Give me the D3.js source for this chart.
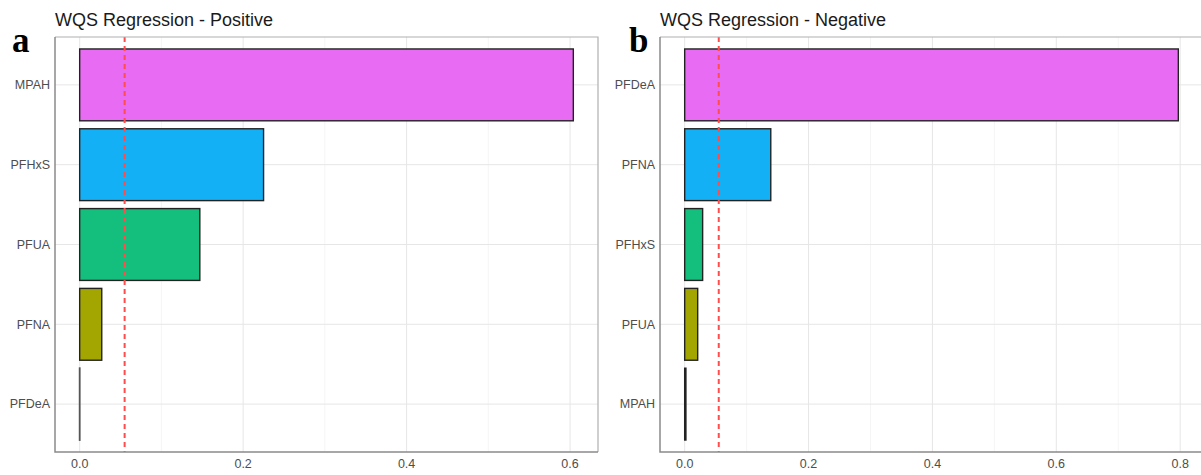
<!DOCTYPE html>
<html>
<head>
<meta charset="utf-8">
<script src="https://cdn.jsdelivr.net/npm/d3@7"></script>
<style>
  body { margin: 0; background: #fff; }
  svg { display: block; font-family: "Liberation Sans", Arial, sans-serif; }
  .grid-major { stroke: #e6e6e6; stroke-width: 1; }
  .grid-minor { stroke: #f2f2f2; stroke-width: 0.8; }
  .tick-label { fill: #4d4d4d; font-size: 12.5px; }
  .title { fill: #1a1a1a; font-size: 18px; }
  .panel-tag { font-family: "Liberation Serif", "Times New Roman", serif; font-weight: bold; font-size: 35px; fill: #000; }
</style>
</head>
<body>
<div id="viz"></div>
<script>
// Panel a: positive direction (top to bottom)
const posNames = ["MPAH", "PFHxS", "PFUA", "PFNA", "PFDeA"];
const posWeights = [0.604, 0.225, 0.147, 0.027, 0.0];

// Panel b: negative direction (top to bottom)
const negNames = ["PFDeA", "PFNA", "PFHxS", "PFUA", "MPAH"];
const negWeights = [0.797, 0.139, 0.029, 0.021, 0.002];

const posTicks = [0.0, 0.2, 0.4, 0.6];
const negTicks = [0.0, 0.2, 0.4, 0.6, 0.8];

const threshold = 0.055;

// fill by rank (largest first), ggplot hue palette
const rankColors = ["#E76BF3", "#14B0F6", "#14BF7D", "#A3A500", "#F8766D"];

const svg = d3.select("#viz")
    .append("svg")
        .attr("width", 1201)
        .attr("height", 475);

function drawPanel(chartConfig) {
    const names = chartConfig.names,
        values = chartConfig.values;
    const left = chartConfig.left, right = chartConfig.right,
        top = 37, bottom = 452;

    const maxV = d3.max(values);
    const pad = maxV * 0.05;
    const x = d3.scaleLinear()
        .domain([-pad, maxV + pad])
        .range([left, right]);

    const y = d3.scaleBand()
        .domain(names)
        .range([top, bottom])
        .paddingInner(0.1)
        .paddingOuter(0.15);

    const g = svg.append("g");

    // minor grid
    const minor = d3.range(0.1, maxV + pad, 0.2);
    g.selectAll(".grid-minor")
        .data(minor)
        .join("line")
        .attr("class", "grid-minor")
        .attr("x1", d => x(d)).attr("x2", d => x(d))
        .attr("y1", top).attr("y2", bottom);

    // major grid
    g.selectAll(".grid-major.v")
        .data(chartConfig.ticks)
        .join("line")
        .attr("class", "grid-major v")
        .attr("x1", d => x(d)).attr("x2", d => x(d))
        .attr("y1", top).attr("y2", bottom);
    g.selectAll(".grid-major.h")
        .data(names)
        .join("line")
        .attr("class", "grid-major h")
        .attr("x1", left).attr("x2", right)
        .attr("y1", d => y(d) + y.bandwidth() / 2)
        .attr("y2", d => y(d) + y.bandwidth() / 2);

    // bars (zero weights still get their outline, like ggplot)
    g.selectAll(".bar")
        .data(names.map((n, i) => ({name: n, value: values[i], rank: i})))
        .join("rect")
        .attr("class", "bar")
        .attr("x", x(0))
        .attr("y", d => y(d.name))
        .attr("width", d => Math.max(x(d.value) - x(0), 0.01))
        .attr("height", y.bandwidth())
        .attr("fill", d => rankColors[d.rank])
        .attr("stroke", d => d.value === 0 ? "#555" : "#222")
        .attr("stroke-width", d => d.value === 0 ? 1.8 : 1.4);

    // threshold line
    g.append("line")
        .attr("x1", x(threshold)).attr("x2", x(threshold))
        .attr("y1", top).attr("y2", bottom)
        .attr("stroke", "#ff4d4d")
        .attr("stroke-width", 2)
        .attr("stroke-dasharray", "5,4");

    // panel border
    g.append("path")
        .attr("d", `M${left},${top}H${right}V${bottom}`)
        .attr("fill", "none")
        .attr("stroke", "#b0b0b0")
        .attr("stroke-width", 1.2);
    g.append("path")
        .attr("d", `M${left},${top}V${bottom}H${right}`)
        .attr("fill", "none")
        .attr("stroke", "#8a8a8a")
        .attr("stroke-width", 1.5);

    // y labels
    g.selectAll(".ylab")
        .data(names)
        .join("text")
        .attr("class", "tick-label")
        .attr("x", left - 5)
        .attr("y", d => y(d) + y.bandwidth() / 2)
        .attr("dy", "0.35em")
        .attr("text-anchor", "end")
        .text(d => d);

    // x labels
    g.selectAll(".xlab")
        .data(chartConfig.ticks)
        .join("text")
        .attr("class", "tick-label")
        .attr("x", d => x(d))
        .attr("y", bottom + 16)
        .attr("text-anchor", "middle")
        .text(d => d3.format(".1f")(d));

    // title
    g.append("text")
        .attr("class", "title")
        .attr("x", left)
        .attr("y", 26)
        .text(chartConfig.title);

    g.append("text")
        .attr("class", "panel-tag")
        .attr("x", chartConfig.tagX)
        .attr("y", 52)
        .text(chartConfig.tag);
}

drawPanel({
    names: posNames, values: posWeights, ticks: posTicks,
    left: 55, right: 598, title: "WQS Regression - Positive",
    tag: "a", tagX: 12
});
drawPanel({
    names: negNames, values: negWeights, ticks: negTicks,
    left: 660, right: 1203, title: "WQS Regression - Negative",
    tag: "b", tagX: 629
});
</script>
</body>
</html>
